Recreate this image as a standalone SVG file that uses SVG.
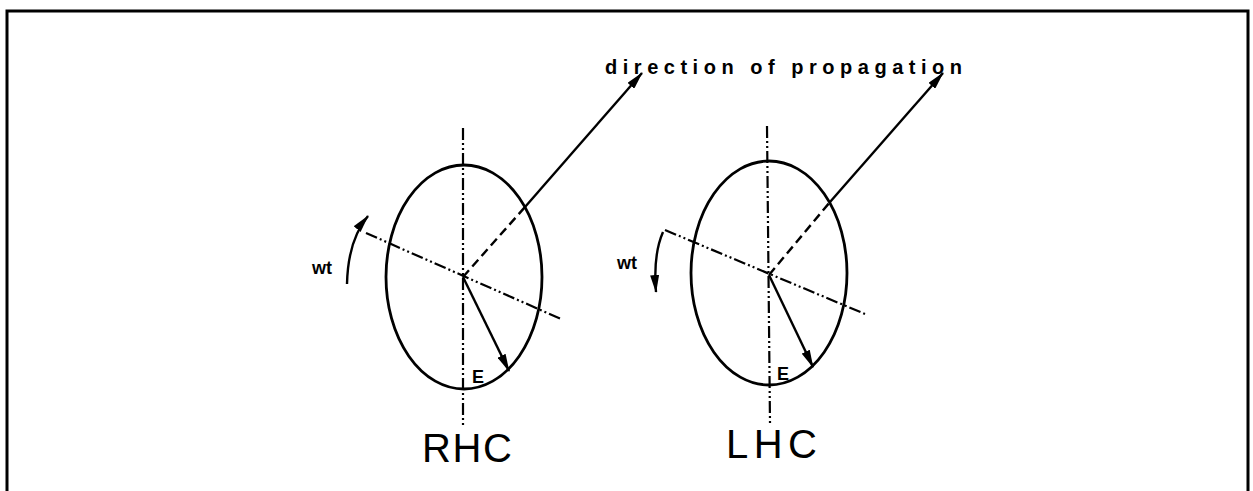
<svg xmlns="http://www.w3.org/2000/svg" width="1253" height="491" viewBox="0 0 1253 491">
<style>
.ln{fill:none;stroke:#000;stroke-width:2.4}
.ell{fill:none;stroke:#000;stroke-width:2.8}
.ax{fill:none;stroke:#000;stroke-width:2.2;stroke-dasharray:12 3 2 3 2 3}
.dsh{fill:none;stroke:#000;stroke-width:2.4;stroke-dasharray:9 5}
.lbl{font-family:"Liberation Sans",Arial,sans-serif;fill:#000}
.big{font-size:40px;font-weight:normal}
.sm{font-size:18px;font-weight:bold}
</style>
<defs>
<marker id="ah" viewBox="0 0 18 9" refX="17" refY="4.5" markerWidth="18" markerHeight="9" markerUnits="userSpaceOnUse" orient="auto">
<path d="M0,0 L18,4.5 L0,9 Z" fill="#000"/>
</marker>
</defs>
<rect width="1253" height="491" fill="#fff"/>
<path d="M7,491 V11 H1248 V491" fill="none" stroke="#000" stroke-width="3"/>
<text class="lbl" x="605" y="74" font-size="20" font-weight="bold" textLength="357" lengthAdjust="spacing">direction of propagation</text>

<g id="rhc">
<ellipse class="ell" cx="464" cy="277" rx="78" ry="112"/>
<text class="lbl big" x="422" y="462" textLength="90" lengthAdjust="spacing">RHC</text>
<text class="lbl sm" x="472" y="383">E</text>
<text class="lbl sm" x="312" y="274">wt</text>
</g>
<g id="lhc">
<ellipse class="ell" cx="769" cy="273" rx="78" ry="112"/>
<text class="lbl big" x="726" y="458" textLength="91" lengthAdjust="spacing">LHC</text>
<text class="lbl sm" x="777" y="380">E</text>
<text class="lbl sm" x="617" y="269">wt</text>
</g>

<g id="connectors">
<!-- RHC -->
<line class="ax" x1="463" y1="128" x2="463" y2="427"/>
<line class="ax" x1="366" y1="233" x2="561" y2="319"/>
<line class="dsh" x1="463" y1="277" x2="525" y2="207"/>
<line class="ln" x1="525" y1="207" x2="642" y2="73" marker-end="url(#ah)"/>
<line class="ln" x1="463" y1="277" x2="509" y2="371" marker-end="url(#ah)"/>
<path class="ln" d="M347,284 Q348,240 368,216" marker-end="url(#ah)"/>
<!-- LHC -->
<line class="ax" x1="767" y1="126" x2="770" y2="423"/>
<line class="ax" x1="665" y1="230" x2="865" y2="314"/>
<line class="dsh" x1="769" y1="275" x2="830" y2="202"/>
<line class="ln" x1="830" y1="202" x2="943" y2="73" marker-end="url(#ah)"/>
<line class="ln" x1="769" y1="275" x2="813" y2="367" marker-end="url(#ah)"/>
<path class="ln" d="M663,232 Q653,255 656,292" marker-end="url(#ah)"/>
</g>
</svg>
